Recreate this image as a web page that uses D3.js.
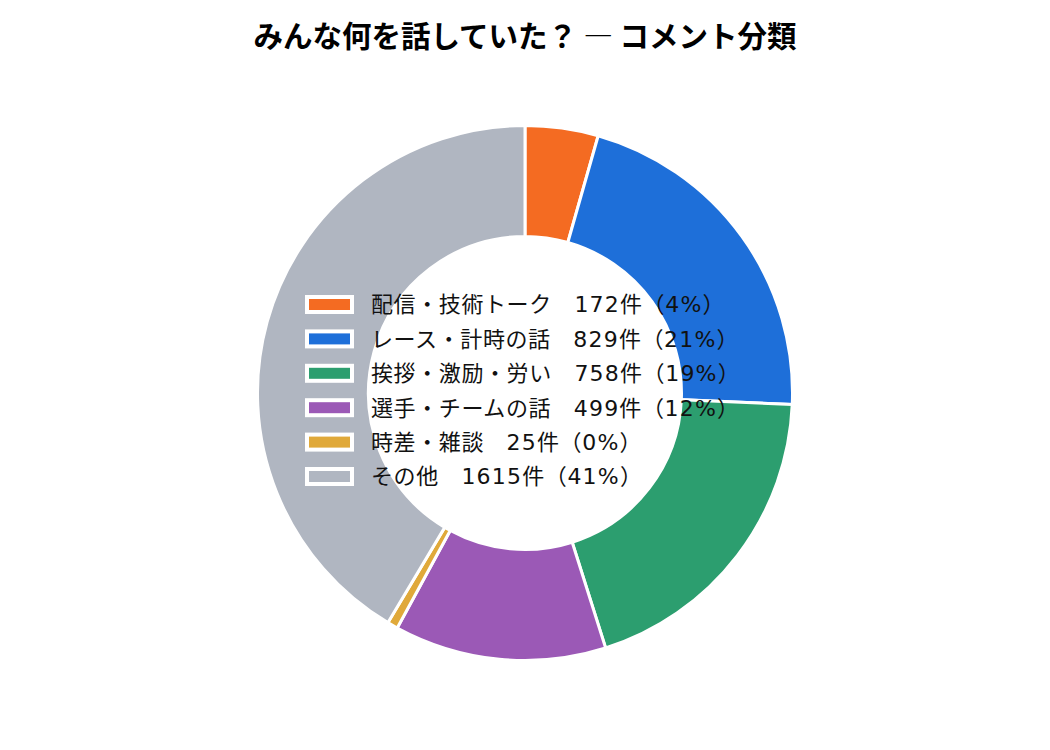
<!DOCTYPE html>
<html>
<head>
<meta charset="utf-8">
<script src="https://cdn.jsdelivr.net/npm/d3@7"></script>
<style>
  body { margin: 0; background: #fff; }
  svg { display: block; font-family: "Noto Sans CJK JP", "Noto Sans", sans-serif; }
</style>
</head>
<body>
<div id="chart"></div>
<script>
// comment categories
var categories = [
  '配信・技術トーク',
  'レース・計時の話',
  '挨拶・激励・労い',
  '選手・チームの話',
  '時差・雑談',
  'その他'
]
var counts = [172, 829, 758, 499, 25, 1615]
var colors = ['#F46B22', '#1E6FD9', '#2C9E6F', '#9B59B6', '#E0A93A', '#B0B6C1']

var width = 1050
var height = 750
var cx = 525
var cy = 393
var outerR = 267.5
var innerR = 156.5

var svg = d3
  .select('#chart')
  .append('svg')
  .attr('width', width)
  .attr('height', height)

// title
var title = svg
  .append('text')
  .attr('x', cx)
  .attr('y', 47)
  .attr('text-anchor', 'middle')
  .attr('font-size', 29.5)
  .attr('font-weight', 'bold')
  .attr('fill', '#000')
title.append('tspan').text('みんな何を話していた？')
title.append('tspan').attr('font-weight', 300).text(' ― ')
title.append('tspan').text('コメント分類')

var total = d3.sum(counts)
var data = categories.map(function (c, i) {
  return { name: c, value: counts[i], color: colors[i] }
})

var pie = d3.pie().sort(null).value(function (d) { return d.value })
var arc = d3.arc().innerRadius(innerR).outerRadius(outerR)

var g = svg.append('g').attr('transform', 'translate(' + cx + ',' + cy + ')')

g.selectAll('path')
  .data(pie(data))
  .join('path')
  .attr('d', arc)
  .attr('fill', function (d) { return d.data.color })
  .attr('stroke', '#fff')
  .attr('stroke-width', 3)

// legend inside the hole
var rowY = d3.scaleLinear().domain([0, 1]).range([304.5, 338.9])

var legend = svg
  .append('g')
  .selectAll('g')
  .data(data)
  .join('g')
  .attr('transform', function (d, i) { return 'translate(0,' + rowY(i) + ')' })

legend
  .append('rect')
  .attr('x', 307)
  .attr('y', -7.5)
  .attr('width', 45)
  .attr('height', 15)
  .attr('fill', function (d) { return d.color })
  .attr('stroke', '#fff')
  .attr('stroke-width', 4)

var numFont = '"DejaVu Sans", "Noto Sans CJK JP", sans-serif'

var label = legend
  .append('text')
  .attr('x', 371)
  .attr('y', 0)
  .attr('dy', '0.36em')
  .attr('font-size', 22)
  .attr('fill', '#111')
  .attr('letter-spacing', 0.6)

label.append('tspan').text(function (d) { return d.name + '　' })
label
  .append('tspan')
  .attr('font-family', numFont)
  .attr('letter-spacing', 1.2)
  .text(function (d) { return d.value })
label.append('tspan').text('件（')
label
  .append('tspan')
  .attr('font-family', numFont)
  .attr('letter-spacing', 1.2)
  .text(function (d) { return Math.floor((d.value / total) * 100) + '%' })
label.append('tspan').text('）')
</script>
</body>
</html>
